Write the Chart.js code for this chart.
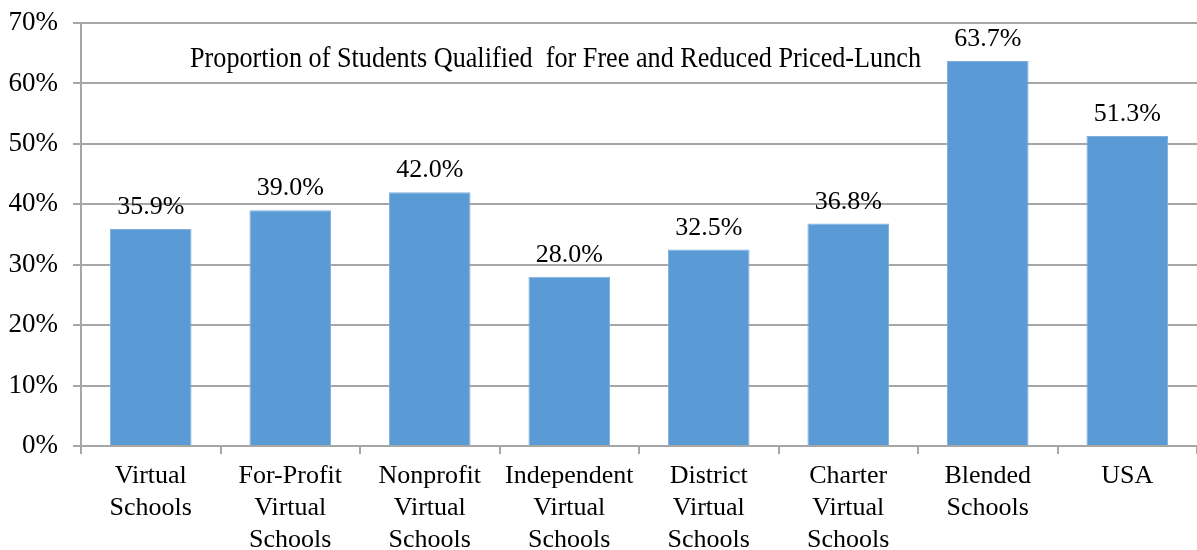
<!doctype html>
<html lang="en">
 <head>
  <meta charset="UTF-8">
  <title>Free and Reduced Priced-Lunch</title>
  <script src="https://cdn.jsdelivr.net/npm/chart.js@4/dist/chart.umd.min.js"></script>
  <style>
   html, body { margin: 0; padding: 0; background: #fff; }
   #wrap { width: 1197px; height: 550px; position: relative; }
  </style>
 </head>
 <body>
  <div id="wrap"><canvas id="c"></canvas></div>
  <script>
// data
var categories = [
    ['Virtual', 'Schools'],
    ['For-Profit', 'Virtual', 'Schools'],
    ['Nonprofit', 'Virtual', 'Schools'],
    ['Independent', 'Virtual', 'Schools'],
    ['District', 'Virtual', 'Schools'],
    ['Charter', 'Virtual', 'Schools'],
    ['Blended', 'Schools'],
    ['USA']
];
var lunchPct = [35.9, 39.0, 42.0, 28.0, 32.5, 36.8, 63.7, 51.3];
var yTicks = [0, 10, 20, 30, 40, 50, 60, 70];
var chartTitle = 'Proportion of Students Qualified  for Free and Reduced Priced-Lunch';

var serif = "'Liberation Serif', 'Times New Roman', serif";
var gridGray = '#a6a6a6';

// bar value labels + the title that sits inside the plot
var overlay = {
    id: 'overlay',
    afterDatasetsDraw: function(chart) {
        var ctx = chart.ctx;
        var meta = chart.getDatasetMeta(0);
        ctx.save();
        ctx.fillStyle = '#000';
        ctx.font = '26px ' + serif;
        ctx.textAlign = 'center';
        ctx.textBaseline = 'alphabetic';
        meta.data.forEach(function(bar, i) {
            ctx.fillText(lunchPct[i].toFixed(1) + '%', bar.x, bar.y - 15);
        });

        // title is a narrow face in the original, squeeze it
        ctx.font = '29px ' + serif;
        ctx.textAlign = 'left';
        var w = ctx.measureText(chartTitle).width;
        var sx = 731 / w;
        ctx.translate(190, 67);
        ctx.scale(sx, 1);
        ctx.fillText(chartTitle, 0, 0);
        ctx.restore();
    }
};

new Chart(document.getElementById('c'), {
    type: 'bar',
    data: {
        labels: categories,
        datasets: [{
            data: lunchPct,
            backgroundColor: '#5b9bd5',
            borderColor: '#7fb1de',
            borderWidth: 1,
            categoryPercentage: 1,
            barPercentage: 0.585
        }]
    },
    options: {
        responsive: true,
        maintainAspectRatio: false,
        animation: false,
        layout: { padding: { top: 23, right: 0, bottom: 0, left: 0 } },
        plugins: {
            legend: { display: false },
            tooltip: { enabled: false }
        },
        scales: {
            x: {
                grid: {
                    offset: true,
                    drawOnChartArea: false,
                    drawTicks: true,
                    tickLength: 8,
                    color: gridGray,
                    lineWidth: 2
                },
                border: { color: gridGray, width: 2 },
                ticks: {
                    color: '#000',
                    font: { family: serif, size: 26, lineHeight: 1.23 },
                    padding: 6,
                    maxRotation: 0,
                    autoSkip: false
                },
                afterFit: function(scale) {
                    scale.height = 104;
                    scale.paddingLeft = 0;
                    scale.paddingRight = 0;
                }
            },
            y: {
                min: 0,
                max: 70,
                afterBuildTicks: function(scale) {
                    scale.ticks = yTicks.map(function(v) { return { value: v }; });
                },
                grid: {
                    color: gridGray,
                    lineWidth: 2,
                    tickLength: 8
                },
                border: { color: gridGray, width: 2 },
                ticks: {
                    color: '#000',
                    font: { family: serif, size: 27 },
                    padding: 15,
                    callback: function(v) { return v + '%'; }
                },
                afterFit: function(scale) {
                    scale.width = 81;
                    scale.paddingTop = 0;
                    scale.paddingBottom = 0;
                }
            }
        }
    },
    plugins: [overlay]
});
  </script>
 </body>
</html>
